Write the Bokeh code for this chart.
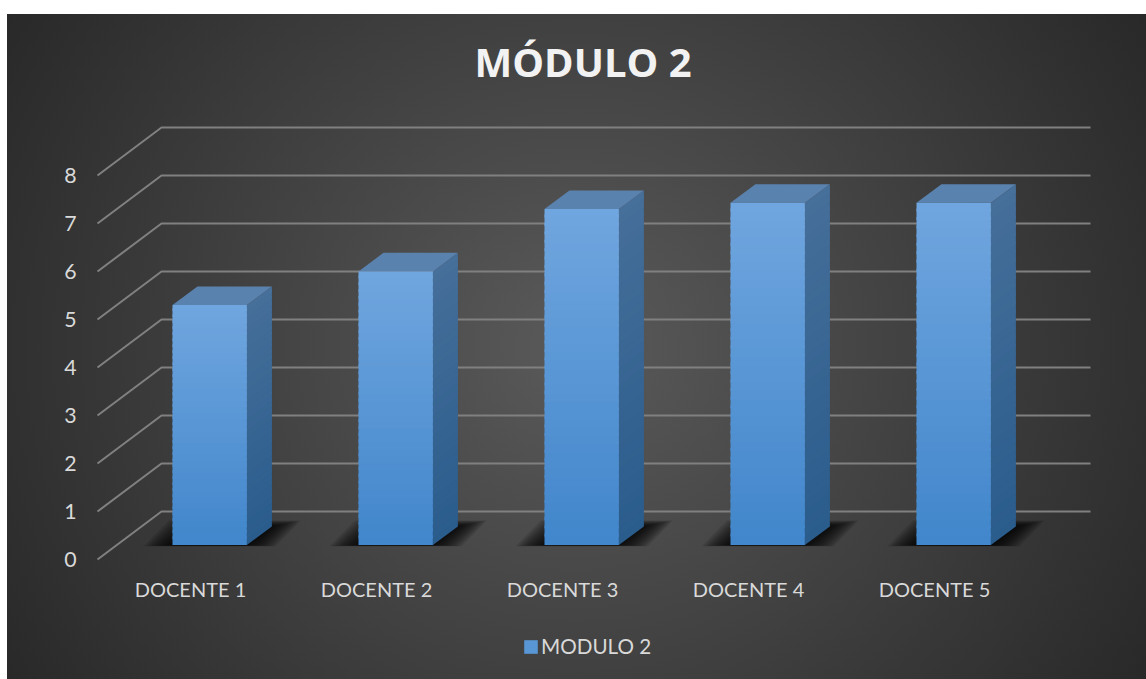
import numpy as np
from bokeh.plotting import figure
from bokeh.models import Range1d, FixedTicker, Legend, LegendItem, LinearAxis
from bokeh.core.properties import value
from bokeh.embed import file_html
from bokeh.resources import INLINE

categories = ["DOCENTE 1", "DOCENTE 2", "DOCENTE 3", "DOCENTE 4", "DOCENTE 5"]
modulo2 = [5.0, 5.7, 7.0, 7.13, 7.13]
y_ticks = [0, 1, 2, 3, 4, 5, 6, 7, 8]
series_name = "MODULO 2"
title_text = "MÓDULO 2"

W, H = 1146, 679
BL, BR, BT, BB = 90, 51, 100, 9
PX_X, PX_Y = 186.0, 48.0          # pixels per category / per unit
DX, DY = 64 / PX_X, 1.0           # full floor depth in data units
NBINS = 40
x0 = -7 / PX_X
y0 = -111 / PX_Y
axis_y = -6 / PX_Y

p = figure(width=W, height=H, output_backend="svg", toolbar_location=None,
           x_axis_type=None, y_axis_type=None,
           frame_width=W - BL - BR, frame_height=H - BT - BB,
           min_border_left=BL, min_border_right=BR, min_border_top=BT, min_border_bottom=BB,
           x_range=Range1d(x0, x0 + (W - BL - BR) / PX_X),
           y_range=Range1d(y0, y0 + (H - BT - BB) / PX_Y))
p.outline_line_color = None
p.background_fill_alpha = 0
p.border_fill_alpha = 0
p.grid.visible = False
p.styles = {
    "background-image": "radial-gradient(ellipse 62% 100% at 50% 50%, #5a5a5a 0%, #262626 100%)",
    "background-size": "1139px 665px",
    "background-position": "7px 14px",
    "background-repeat": "no-repeat",
}

# title
p.title.text = title_text
p.title.align = "left"
p.title.text_color = "#f2f2f2"
p.title.text_font = "Open Sans"
p.title.text_font_style = "bold"
p.title.text_font_size = "30pt"
p.title.offset = 384
p.title.standoff = 23

# axes
ya = LinearAxis(ticker=FixedTicker(ticks=y_ticks))
ya.axis_line_color = None
ya.major_tick_line_color = None
ya.minor_tick_line_color = None
ya.major_label_text_color = "#d9d9d9"
ya.major_label_text_font = "Lato"
ya.major_label_text_font_size = "16pt"
ya.major_label_standoff = 8
p.add_layout(ya, "left")

xpos = [i + 0.5 for i in range(len(categories))]
xa = LinearAxis(ticker=FixedTicker(ticks=xpos), fixed_location=axis_y,
                major_label_overrides={x: c for x, c in zip(xpos, categories)})
xa.axis_line_color = None
xa.major_tick_line_color = None
xa.minor_tick_line_color = None
xa.major_label_text_color = "#d9d9d9"
xa.major_label_text_font = "Lato"
xa.major_label_text_font_size = "15pt"
xa.major_label_standoff = 5
p.add_layout(xa, "below")

# gridlines
gx, gy = [], []
for t in y_ticks:
    gx.append([0, DX, (1090 - 97) / PX_X])
    gy.append([t, t + DY, t + DY])
p.multi_line(gx, gy, line_color="#808080", line_width=2)

# bars
bw = 0.4
f0, f1 = 0.30, 0.69
shx0, shy0 = DX * f0, DY * f0
shx1, shy1 = DX * f1, DY * f1
x_left = np.array(xpos) - bw / 2 + shx0

# floor shadows
sx, sy = [], []
for xl in x_left:
    for k in range(12):
        g = (12 - k) * 2.4
        gxu, gyu = g / PX_X, g / PX_Y
        sx.append([xl - gxu, xl + bw + gxu, xl + bw + (shx1 - shx0) + gxu, xl + (shx1 - shx0) - gxu])
        sy.append([shy0 - gyu * 0.04, shy0 - gyu * 0.04, shy1 + gyu * 0.2, shy1 + gyu * 0.2])
p.patches(sx, sy, fill_color="#000000", fill_alpha=0.11, line_color=None)

def mix(c0, c1, t):
    c = [int(round(a + (b - a) * t)) for a, b in zip(c0, c1)]
    return "#%02x%02x%02x" % tuple(c)

top_c, bot_c = (0x70, 0xa6, 0xdf), (0x41, 0x86, 0xcb)
sd_top, sd_bot = (0x46, 0x6f, 0x9a), (0x2a, 0x5c, 0x8c)
OVER = 0.06

q_l, q_r, q_b, q_t, q_c = [], [], [], [], []
side_x, side_y, side_c = [], [], []
top_x, top_y = [], []
d = shx1 - shx0
e = shy1 - shy0
for xl, v in zip(x_left, modulo2):
    edges = np.linspace(0, v, NBINS + 1)
    for j in range(NBINS):
        b0 = edges[j] + shy0
        b1 = min(edges[j + 1] + OVER, v) + shy0
        tt = (j + 0.5) / NBINS
        q_l.append(xl); q_r.append(xl + bw); q_b.append(b0); q_t.append(b1)
        q_c.append(mix(bot_c, top_c, tt))
        side_x.append([xl + bw, xl + bw + d, xl + bw + d, xl + bw])
        side_y.append([b0, b0 + e, b1 + e, b1])
        side_c.append(mix(sd_bot, sd_top, tt))
    top_x.append([xl, xl + bw, xl + bw + d, xl + d])
    top_y.append([v + shy0, v + shy0, v + shy0 + e, v + shy0 + e])

p.patches(side_x, side_y, fill_color=side_c, line_color=None)
p.patches(top_x, top_y, fill_color="#5a82ae", line_color=None)
r = p.quad(left=q_l, right=q_r, bottom=q_b, top=q_t, fill_color=q_c, line_color=None)

# legend
legend = Legend(items=[LegendItem(label=value(series_name), renderers=[r], index=NBINS // 2)],
                orientation="horizontal", location=(432, 12),
                background_fill_alpha=0, border_line_color=None,
                label_text_color="#d9d9d9", label_text_font="Lato", label_text_font_size="15.5pt",
                glyph_width=17, glyph_height=17, label_standoff=2, margin=0, padding=0)
p.add_layout(legend, "center")

open("out.html", "w").write(file_html(p, INLINE))
